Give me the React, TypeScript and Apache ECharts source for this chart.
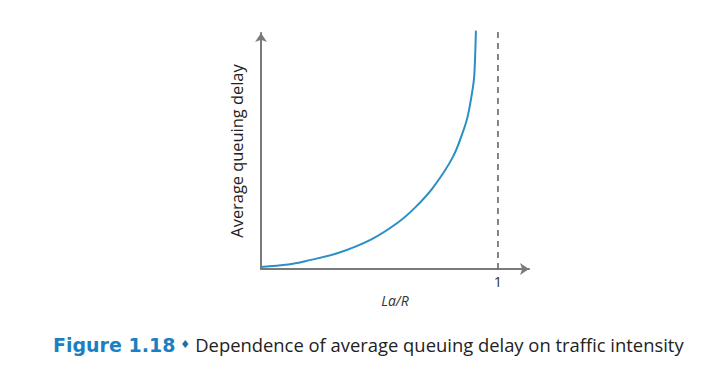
import React, { useEffect, useRef } from "react";
import * as echarts from "echarts";

// Traffic intensity (La/R) values
const intensity = [0, 0.115, 0.186, 0.325, 0.468, 0.578, 0.65, 0.726, 0.81, 0.857, 0.873, 0.892, 0.9, 0.907];
// Average queuing delay (arbitrary units)
const delay = [0.085, 0.19, 0.33, 0.68, 1.27, 1.97, 2.6, 3.45, 4.75, 5.95, 6.5, 7.55, 8.2, 10.1];
// Vertical asymptote at La/R = 1 (dashed)
const asymptoteX = [1, 1];
const asymptoteY = [0, 10.13];
const xTickValues = [1];
const xAxisName = "La/R";
const yAxisName = "Average queuing delay";
const captionLabel = "Figure 1.18";
const captionText = "Dependence of average queuing delay on traffic intensity";

export default function App() {
  const ref = useRef<HTMLDivElement>(null);
  useEffect(() => {
    if (!ref.current) return;
    const chart = echarts.init(ref.current, null, { renderer: "svg" });
    const axisColor = "#7a7a7a";
    chart.setOption({
      animation: false,
      backgroundColor: "#ffffff",
      title: {
        left: 45,
        top: 327,
        padding: 0,
        text: `{a|${captionLabel}} {b|♦} {c|${captionText}}`,
        textStyle: {
          rich: {
            a: { fontFamily: "DejaVu Sans", fontWeight: "bold", fontSize: 19, color: "#1b80c2" },
            b: { fontFamily: "DejaVu Sans", fontWeight: "normal", fontSize: 11, color: "#1c6fa6" },
            c: { fontFamily: "Open Sans", fontWeight: "normal", fontSize: 18.4, color: "#222222" },
          },
        },
      },
      grid: { left: 253, top: 25, width: 268, height: 236, containLabel: false },
      xAxis: {
        type: "value",
        min: 0,
        max: 1.131,
        name: xAxisName,
        nameLocation: "middle",
        nameGap: 19,
        nameTextStyle: { fontFamily: "Open Sans", fontStyle: "italic", fontSize: 14, color: "#333" },
        axisLine: { show: true, lineStyle: { color: axisColor, width: 2 }, symbol: ["none", "arrow"], symbolSize: [9, 9] },
        axisTick: { show: false },
        splitLine: { show: false },
        axisLabel: { show: true, customValues: xTickValues, fontFamily: "Open Sans", fontSize: 14.5, color: "#333", margin: 5 },
      },
      yAxis: {
        type: "value",
        min: 0,
        max: 10,
        name: yAxisName,
        nameLocation: "middle",
        nameRotate: 90,
        nameGap: 17,
        nameTextStyle: { fontFamily: "Open Sans", fontSize: 16.4, color: "#222" },
        axisLine: { show: true, lineStyle: { color: axisColor, width: 2 }, symbol: ["none", "arrow"], symbolSize: [9, 9] },
        axisTick: { show: false },
        splitLine: { show: false },
        axisLabel: { show: false },
      },
      series: [
        {
          type: "line",
          clip: false,
          data: asymptoteX.map((x, i) => [x, asymptoteY[i]]),
          showSymbol: false,
          silent: true,
          lineStyle: { color: "#666666", width: 1.6, type: [6, 5] },
          z: 1,
        },
        {
          type: "line",
          clip: false,
          data: intensity.map((x, i) => [x, delay[i]]),
          smooth: 0.35,
          showSymbol: false,
          lineStyle: { color: "#2a8fc4", width: 2 },
          z: 2,
        },
      ],
    });
    return () => chart.dispose();
  }, []);
  return <div ref={ref} style={{ width: 705, height: 381 }} />;
}
